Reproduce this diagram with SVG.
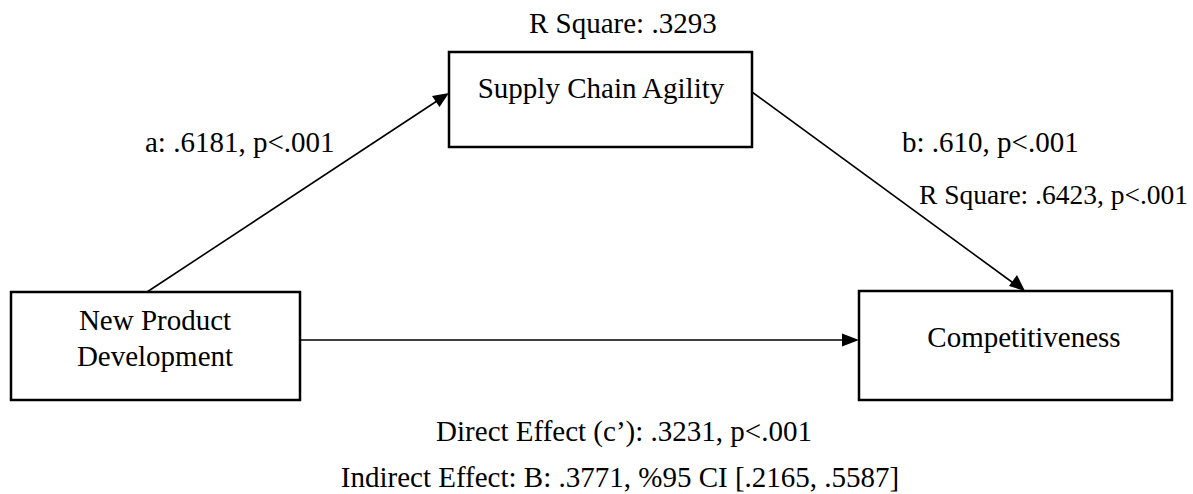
<svg xmlns="http://www.w3.org/2000/svg" width="1193" height="494" viewBox="0 0 1193 494">
<style>
text{font-family:"Liberation Serif","Times New Roman",serif;font-size:29px;fill:#000}
.box{fill:#fff;stroke:#000;stroke-width:2.5}
.edge{stroke:#000;stroke-width:1.6;fill:none}
.head{fill:#000}
</style>
<rect width="1193" height="494" fill="#fff"/>
<g id="connectors">
<line class="edge" x1="147" y1="292" x2="440" y2="99"/>
<path class="head" d="M449,93 L432,96 L439.5,107 z"/>
<line class="edge" x1="752" y1="92" x2="1016" y2="285"/>
<path class="head" d="M1025,291 L1017,275 L1009,286 z"/>
<line class="edge" x1="300" y1="340" x2="848" y2="340"/>
<path class="head" d="M859,340 L842,333.5 L842,346.5 z"/>
</g>
<g id="node-npd">
<rect class="box" x="11" y="292" width="289" height="108"/>
<text x="155" y="330" text-anchor="middle">New Product</text>
<text x="155" y="366" text-anchor="middle">Development</text>
</g>
<g id="node-sca">
<rect class="box" x="449" y="52" width="303" height="95"/>
<text x="601" y="98" text-anchor="middle">Supply Chain Agility</text>
</g>
<g id="node-comp">
<rect class="box" x="859" y="291" width="313" height="109"/>
<text x="1024" y="347" text-anchor="middle">Competitiveness</text>
</g>
<g id="labels">
<text x="529" y="33">R Square: .3293</text>
<text x="145" y="152">a: .6181, p&lt;.001</text>
<text x="902" y="152">b: .610, p&lt;.001</text>
<text x="919" y="204" style="font-size:27.5px">R Square: .6423, p&lt;.001</text>
<text x="624" y="441" text-anchor="middle">Direct Effect (c’): .3231, p&lt;.001</text>
<text x="620" y="487" text-anchor="middle">Indirect Effect: B: .3771, %95 CI [.2165, .5587]</text>
</g>
</svg>
